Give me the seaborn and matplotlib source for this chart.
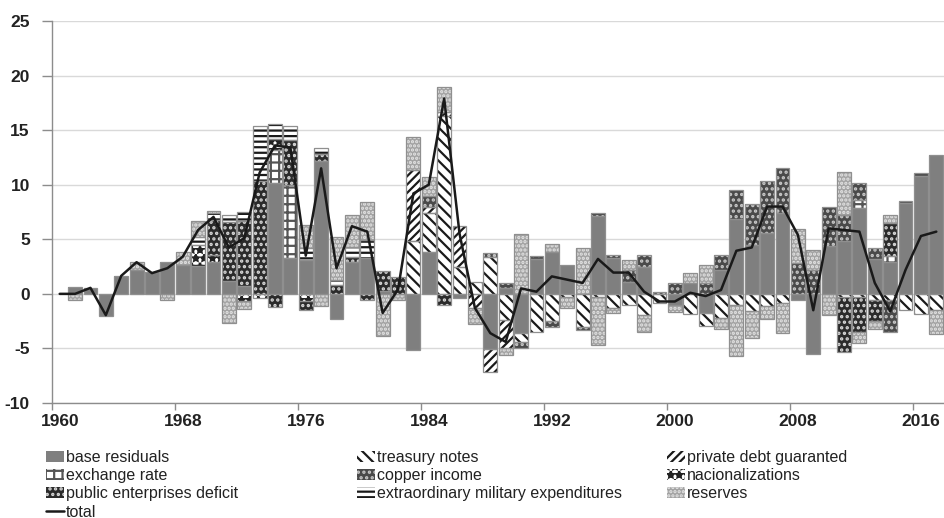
import numpy as np
import pandas as pd
import seaborn as sns
import matplotlib.pyplot as plt
from matplotlib.patches import Patch
from matplotlib.lines import Line2D

sns.set_theme(style="white")
plt.rcParams['font.family'] = ['Liberation Sans', 'DejaVu Sans']
plt.rcParams['hatch.linewidth'] = 1.6
plt.rcParams['axes.unicode_minus'] = False

years = list(range(1960, 2018))

# values, one row per decade
base_residuals = [
    0, 0.67, 0.58, -2.07, 1.65, 2.2, 2.0, 2.95, 2.65, 2.55,
    2.95, 1.2, 0.73, 0, 10.2, 3.3, 3.1, 12.2, -2.3, 2.95,
    3.25, 0.3, 0, -5.1, 3.8, 0, -0.4, 0, -5.05, 0.5,
    -3.6, 3.2, 3.8, 2.65, 0, 7.1, 3.3, 1.1, 2.5, 0,
    -1.0, 1.0, -1.75, 2.2, 6.9, 4.5, 5.6, 7.45, -0.6, -5.5,
    4.35, 4.8, 7.85, 3.2, 2.95, 8.3, 10.8, 12.7]
treasury_notes = [
    0, 0, 0, 0, 0, 0, 0, 0, 0, 0,
    0, 0, 0, 0, 0, 0, 0, 0, 0, 0,
    0, 0, 0, 4.8, 3.6, 16.3, 2.5, 1.1, 3.4, -2.4,
    -0.85, -3.45, -2.5, -0.3, -3.0, -0.25, -1.3, -1.0, -1.9, -0.85,
    0, -1.8, -1.15, -2.2, -1.0, -1.6, -1.1, -0.8, 0, 0,
    0, -0.25, -0.25, -0.55, -0.55, -1.45, -1.8, -1.45]
private_debt = [
    0, 0, 0, 0, 0, 0, 0, 0, 0, 0,
    0, 0, 0, 0, 0, 0, 0, 0, 0, 0,
    0, 0, 0, 6.55, 0.6, 0.4, 3.75, -1.3, -2.1, -2.6,
    0, 0, 0, 0, 0, 0, 0, 0, 0, 0,
    0, 0, 0, 0, 0, 0, 0, 0, 0, 0,
    0, 0, 0, 0, 0, 0, 0, 0]
exchange_rate = [
    0, 0, 0, 0, 0, 0, 0, 0, 0, 0,
    0, 0, 0, 0, 3.0, 6.7, 0, 0, 0, 0,
    0, 0, 0, 0, 0, 0, 0, 0, 0, 0,
    0, 0, 0, 0, 0, 0, 0, 0, 0, 0,
    0, 0, 0, 0, 0, 0, 0, 0, 0, 0,
    0, 0, 0.75, 0, 0.55, 0, 0, 0]
copper_income = [
    0, 0, 0, 0, 0, 0, 0, 0, 0, 0,
    0, 0, 0, 0, 0, 0, 0, 0, 0, 0,
    0, 0, 0, 0, 1.0, 0, 0, 0, 0.3, 0.5,
    -0.55, 0.3, -0.5, 0, -0.35, 0.3, 0.3, 1.1, 1.05, 0.2,
    1.0, 0, 1.0, 1.35, 2.65, 3.7, 4.75, 4.05, 2.8, 2.2,
    3.65, 2.4, 1.6, 1.0, -2.9, 0.2, 0.3, 0]
nacionalizations = [
    0, 0, 0, 0, 0, 0, 0, 0, 0, 1.95,
    0.6, 0, -0.7, -0.35, 1.0, 0, -0.7, 0, 0, 0,
    0, 0, 0, 0, 0, 0, 0, 0, 0, 0,
    0, 0, 0, 0, 0, 0, 0, 0, 0, 0,
    0, 0, 0, 0, 0, 0, 0, 0, 0, 0,
    0, 0, 0, 0, 0, 0, 0, 0]
public_enterprises = [
    0, 0, 0, 0, 0, 0, 0, 0, 0, 0,
    3.2, 5.4, 5.9, 10.3, -1.2, 4.1, -0.8, 0.6, 0.8, 0.45,
    -0.6, 1.8, 1.5, 0, 0, -1.0, 0, 0, 0, 0,
    0, 0, 0, 0, 0, 0, 0, 0, 0, 0,
    0, 0, 0, 0, 0, 0, 0, 0, 0, 0,
    0, -5.05, -3.2, -1.9, 2.95, 0, 0, 0]
military = [
    0, 0, 0, 0, 0, 0, 0, 0, 0, 0.75,
    0.65, 0.6, 0.9, 5.1, 1.4, 1.3, 1.1, 0.6, 0.5, 0.9,
    1.65, 0, 0, 0, 0, 0, 0, 0, 0, 0,
    0, 0, 0, 0, 0, 0, 0, 0, 0, 0,
    0, 0, 0, 0, 0, 0, 0, 0, 0, 0,
    0, 0, 0, 0, 0, 0, 0, 0]
reserves = [
    0, -0.6, 0, 0, 0, 0.7, 0, -0.6, 1.2, 1.45,
    0.2, -2.7, -0.7, 0, 0, 0, 2.1, -1.1, 3.9, 2.9,
    3.55, -3.85, -0.6, 3.05, 1.7, 2.25, 0, -1.5, 0, -0.6,
    5.5, 0, 0.8, -1.0, 4.2, -4.45, -0.45, 0.9, -1.55, 0,
    -0.7, 0.9, 1.65, -1.0, -4.65, -2.45, -1.2, -2.75, 3.1, 1.8,
    -1.9, 4.0, -1.05, -0.75, 0.75, 0, 0, -2.2]
total = [
    0, 0, 0.55, -1.95, 1.65, 2.9, 1.9, 2.35, 3.4, 5.85,
    7.05, 4.25, 5.1, 11.1, 13.6, 13.4, 3.5, 11.5, 2.35, 6.2,
    5.7, -1.75, 0.4, 9.2, 10.0, 17.9, 5.5, -1.3, -3.6, -4.4,
    0.5, 0.2, 1.6, 1.3, 1.0, 3.2, 1.95, 1.95, 0.2, -0.7,
    -0.7, 0.1, -0.2, 0.35, 3.95, 4.25, 8.0, 8.0, 5.4, -1.5,
    6.0, 5.85, 5.7, 1.0, -1.6, 2.2, 5.3, 5.7]

# name, values, face, hatch, hatch colour
components = [
    ("base residuals", base_residuals, "#7f7f7f", None, "#7f7f7f"),
    ("treasury notes", treasury_notes, "white", "\\\\\\", "#1a1a1a"),
    ("private debt guaranted", private_debt, "white", "////", "#1a1a1a"),
    ("exchange rate", exchange_rate, "white", "++", "#555555"),
    ("copper income", copper_income, "#4a4a4a", "...", "#c8c8c8"),
    ("nacionalizations", nacionalizations, "white", "**", "#222222"),
    ("public enterprises deficit", public_enterprises, "#2b2b2b", "...", "#d8d8d8"),
    ("extraordinary military expenditures", military, "white", "---", "#1a1a1a"),
    ("reserves", reserves, "#a3a3a3", "....", "#e4e4e4"),
]

x = np.array(years) + 0.5
fig = plt.figure(figsize=(9.44, 5.18), dpi=100)
ax = fig.add_axes([52 / 944, 1 - 403 / 518, 892 / 944, 382 / 518])

pos_bottom = np.zeros(len(years))
neg_bottom = np.zeros(len(years))
for name, vals, face, hatch, hcol in components:
    v = np.array(vals, dtype=float)
    bottom = np.where(v >= 0, pos_bottom, neg_bottom)
    m = v != 0
    ax.bar(x[m], v[m], bottom=bottom[m], width=0.9, color=face,
           hatch=hatch, edgecolor=hcol, linewidth=0, zorder=2)
    ax.bar(x[m], v[m], bottom=bottom[m], width=0.9, fill=False,
           edgecolor="#8f8f8f", linewidth=0.9, zorder=3)
    pos_bottom += np.where(v > 0, v, 0)
    neg_bottom += np.where(v < 0, v, 0)

df = pd.DataFrame({"x": x, "total": total})
sns.lineplot(data=df, x="x", y="total", color="#1a1a1a", linewidth=1.8,
             ax=ax, zorder=5)

ax.set_xlim(1960, 2018)
ax.set_ylim(-10, 25)
ax.set_yticks(range(-10, 26, 5))
ax.yaxis.grid(True, color="#d9d9d9", linewidth=1)
ax.set_axisbelow(True)
tick_years = list(range(1960, 2017, 8))
ax.set_xticks(tick_years)
ax.set_xticklabels([])
ax.set_xticks([t + 0.5 for t in tick_years], [str(t) for t in tick_years], minor=True)
ax.tick_params(axis="x", which="major", length=5, width=1, color="#8c8c8c", bottom=True)
ax.tick_params(axis="x", which="minor", length=0, pad=8)
ax.tick_params(axis="y", length=7, width=1, color="#8c8c8c", left=True, pad=9)
for lab in ax.get_xticklabels(minor=True) + ax.get_yticklabels():
    lab.set_fontsize(12.5)
    lab.set_fontweight("bold")
    lab.set_color("#222222")
ax.set_xlabel("")
ax.set_ylabel("")
for s in ["top", "right"]:
    ax.spines[s].set_visible(False)
for s in ["left", "bottom"]:
    ax.spines[s].set_color("#8c8c8c")
    ax.spines[s].set_linewidth(1)

handles = {}
for name, vals, face, hatch, hcol in components:
    handles[name] = Patch(facecolor=face, hatch=hatch, edgecolor=hcol, linewidth=0)
handles["total"] = Line2D([], [], color="#1a1a1a", linewidth=1.8)
legend_cols = [
    (46, ["base residuals", "exchange rate", "public enterprises deficit", "total"]),
    (357, ["treasury notes", "copper income", "extraordinary military expenditures"]),
    (667, ["private debt guaranted", "nacionalizations", "reserves"]),
]
for left, names in legend_cols:
    leg = fig.legend([handles[k] for k in names], names, loc="upper left",
                     bbox_to_anchor=(left / 944, 1 - 450 / 518),
                     frameon=False, fontsize=11.5, handlelength=1.1, handleheight=0.7,
                     handletextpad=0.15, labelspacing=0.2, borderaxespad=0, borderpad=0,
                     labelcolor="#222222")

fig.savefig("out.png", dpi=100)
